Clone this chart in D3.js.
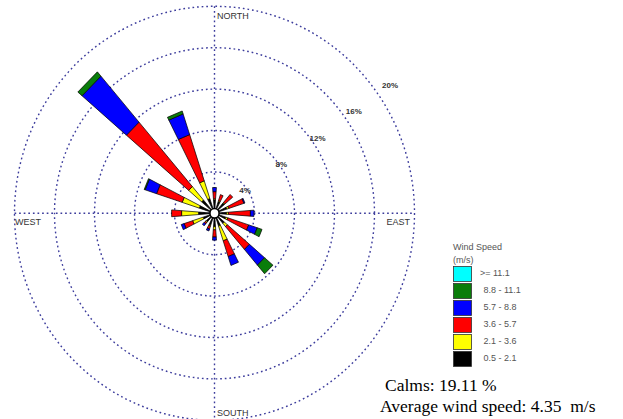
<!DOCTYPE html>
<html>
<head>
<meta charset="utf-8">
<script src="https://cdn.jsdelivr.net/npm/d3@7"></script>
<style>
  html, body { margin: 0; padding: 0; background: #fff; }
  svg { display: block; }
</style>
</head>
<body>
<svg id="chart" width="623" height="419"></svg>
<script>
// ---- data (percent frequency per direction and speed class) ----
const directions = ["N","NNE","NE","ENE","E","ESE","SE","SSE","S","SSW","SW","WSW","W","WNW","NW","NNW"];
const speedClasses = ["0.5 - 2.1","2.1 - 3.6","3.6 - 5.7","5.7 - 8.8","8.8 - 11.1",">= 11.1"];
const speed05_21  = [1.3,1.2,1.3,1.3,1.2,1.2,1.3,1.3,1.3,1.2,1.1,1.2,1.6,1.6,1.7,1.5];
const speed21_36  = [0.1,0.1,0.1,0.2,0.2,0.2,0.4,1.5,0.3,0.1,0.1,1.1,1.7,1.8,1.7,1.8];
const speed36_57  = [0.7,0.6,1.0,1.6,2.2,2.2,2.9,1.6,0.7,0.3,0.15,0.9,1.0,2.7,8.2,4.7];
const speed57_88  = [0.4,0,0,0.1,0.35,0.9,2.0,0.9,0.3,0.2,0.25,0.3,0,1.2,5.85,2.1];
const speed88_111 = [0,0,0,0,0,0.5,1.1,0,0,0,0,0,0,0.1,0.55,0.3];
const speed111    = [0,0,0,0,0,0,0,0,0,0,0,0,0,0,0,0];
const ringTicks = [4,8,12,16,20];
const ringLabels = ["4%","8%","12%","16%","20%"];
const compassLabels = ["NORTH","EAST","SOUTH","WEST"];
const calms = "19.11";
const avgSpeed = "4.35";

const classColors = ["#000000","#FFFF00","#FF0000","#0000FF","#0A7D0A","#00FFFF"];

// ---- layout ----
const svg = d3.select("#chart");
const cx = 214.5, cy = 213.3, ky = 1.035;
const r = d3.scaleLinear().domain([0,20]).range([0,200]);
const labelR = d3.scaleLinear().domain([4,20]).range([37.7,217]);
const angle = d3.scalePoint().domain(directions).range([0, 2*Math.PI - 2*Math.PI/16]);
const halfW = (8.8/2) * Math.PI/180;

const series = [speed05_21, speed21_36, speed36_57, speed57_88, speed88_111, speed111];
const table = directions.map((d,i) => {
  const row = {dir: d};
  speedClasses.forEach((k,j) => row[k] = series[j][i]);
  return row;
});
const stacked = d3.stack().keys(speedClasses)(table);

const g = svg.append("g").attr("transform", `translate(${cx},${cy}) scale(1,${ky})`);

// grid
const gridColor = "#3c3c9c";
const dash = "1.7,2.9";
g.selectAll("circle.ring").data(ringTicks).join("circle")
  .attr("r", d => r(d)).attr("fill","none")
  .attr("stroke", gridColor).attr("stroke-width",1.4)
  .attr("stroke-dasharray",dash);
g.append("line").attr("x1",-r(20)).attr("x2",r(20)).attr("y1",0).attr("y2",0)
  .attr("stroke",gridColor).attr("stroke-width",1.4).attr("stroke-dasharray",dash);
g.append("line").attr("y1",-r(20)).attr("y2",r(20)).attr("x1",0).attr("x2",0)
  .attr("stroke",gridColor).attr("stroke-width",1.4).attr("stroke-dasharray",dash);

// petals
function pt(rad, a) { return d3.pointRadial(a, rad); }
stacked.forEach((layer, j) => {
  g.selectAll(null).data(layer.filter(d => d[1] - d[0] > 0)).join("path")
    .attr("d", d => {
      const a = angle(d.data.dir);
      const r0 = r(d[0]), r1 = r(d[1]);
      const pts = [pt(r0, a-halfW), pt(r1, a-halfW), pt(r1, a+halfW), pt(r0, a+halfW)];
      return d3.line()(pts) + "Z";
    })
    .attr("fill", classColors[j])
    .attr("stroke","#000").attr("stroke-width",0.7).attr("stroke-linejoin","miter");
});

// calm circle
g.append("circle").attr("r",4.6).attr("fill","#fff").attr("stroke","#000").attr("stroke-width",1.6);

// ring labels
const labA = 54 * Math.PI/180;
svg.selectAll("text.ringlab").data(ringTicks).join("text")
  .attr("x", d => cx + labelR(d)*Math.sin(labA))
  .attr("y", d => cy - labelR(d)*Math.cos(labA))
  .attr("text-anchor","middle").attr("dominant-baseline","middle")
  .attr("font-family","Liberation Sans, Arial, sans-serif").attr("font-size",8)
  .attr("font-weight","bold").attr("fill","#333")
  .text((d,i) => ringLabels[i]);

// compass labels
const lab = svg.append("g").attr("font-family","Liberation Sans, Arial, sans-serif")
  .attr("font-size",9).attr("fill","#333");
lab.append("text").attr("x",217).attr("y",18.5).text(compassLabels[0]);
lab.append("text").attr("x",410).attr("y",225).attr("text-anchor","end").text(compassLabels[1]);
lab.append("text").attr("x",217).attr("y",416).text(compassLabels[2]);
lab.append("text").attr("x",15).attr("y",224.5).text(compassLabels[3]);

// legend
const leg = svg.append("g").attr("font-family","Liberation Sans, Arial, sans-serif")
  .attr("font-size",9).attr("fill","#555");
leg.append("text").attr("x",453).attr("y",250).text("Wind Speed");
leg.append("text").attr("x",453).attr("y",263).text("(m/s)");
const legOrder = d3.range(speedClasses.length).reverse();
const ly = d3.scaleBand().domain(legOrder).range([266.5, 266.5 + 6*16.7]).paddingInner(0.1);
leg.selectAll("rect").data(legOrder).join("rect")
  .attr("x",453.5).attr("y", d => ly(d)).attr("width",18).attr("height",15)
  .attr("fill", d => classColors[d]).attr("stroke","#333").attr("stroke-width",0.8);
leg.selectAll("text.item").data(legOrder).join("text")
  .attr("class","item")
  .attr("x", d => d === 5 ? 480 : 483.5)
  .attr("y", d => ly(d) + 7.5).attr("dominant-baseline","middle")
  .text(d => speedClasses[d]);

// footnotes
const foot = svg.append("g").attr("font-family","Liberation Serif, Times New Roman, serif")
  .attr("font-size",17.5).attr("fill","#000");
foot.append("text").attr("x",385).attr("y",391).text(`Calms: ${calms} %`);
foot.append("text").attr("x",380).attr("y",412).text(`Average wind speed: ${avgSpeed}\u00A0 m/s`);
</script>
</body>
</html>
